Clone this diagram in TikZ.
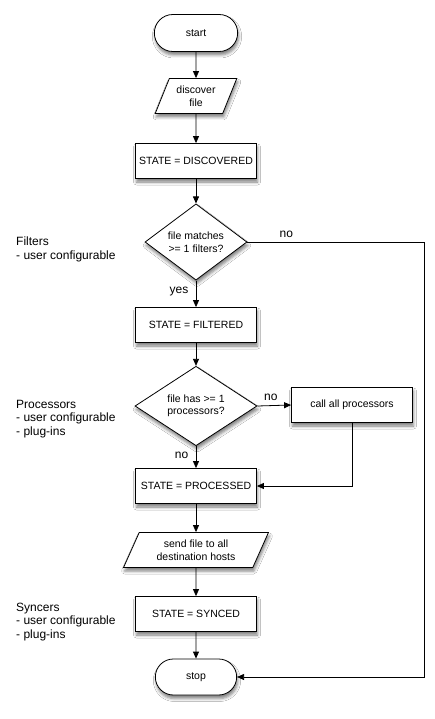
\documentclass[tikz,border=0pt]{standalone}
\usepackage{fontspec}
\setmainfont{Liberation Sans}
\usetikzlibrary{arrows.meta, positioning, shapes.geometric, shapes.misc, shadows.blur}
\definecolor{FlowInk}{HTML}{000000}
\definecolor{FlowPaper}{HTML}{FFFFFF}

\begin{document}
\begin{tikzpicture}[
    x=1pt, y=-1pt,
    font=\fontsize{10.5}{12.5}\selectfont,
    dropshade/.style={
      blur shadow={shadow xshift=1pt, shadow yshift=-3.5pt,
                   shadow blur radius=3pt, shadow opacity=50},
    },
    endpoint/.style={
      rounded rectangle,
      draw=FlowInk,
      line width=0.8pt,
      fill=FlowPaper,
      minimum width=90pt,
      minimum height=37pt,
      dropshade,
    },
    io/.style={
      trapezium,
      trapezium left angle=67,
      trapezium right angle=113,
      trapezium stretches=true,
      draw=FlowInk,
      line width=0.8pt,
      fill=FlowPaper,
      minimum height=35pt,
      inner xsep=2pt,
      align=center,
      dropshade,
    },
    statebox/.style={
      rectangle,
      draw=FlowInk,
      line width=0.8pt,
      fill=FlowPaper,
      minimum width=121pt,
      minimum height=35pt,
      inner xsep=2pt,
      align=center,
      dropshade,
    },
    decision/.style={
      diamond,
      draw=FlowInk,
      line width=0.8pt,
      fill=FlowPaper,
      inner sep=0pt,
      minimum height=68pt,
      align=center,
      dropshade,
    },
    note/.style={
      anchor=west,
      align=left,
      inner xsep=0pt,
      font=\fontsize{12}{13.8}\selectfont,
    },
    answer/.style={
      font=\fontsize{12}{13.8}\selectfont,
    },
    arr/.style={
      draw=FlowInk,
      line width=0.8pt,
      -{Triangle[length=7pt, width=6pt]},
    },
  ]
    \fill[FlowPaper] (0,0) rectangle (434,719);
    \useasboundingbox (0,0) rectangle (434,719);

    % main column
    \node[endpoint] (start) at (196,33) {start};
    \node[io, minimum width=82pt] (discover) at (196,96) {discover\\file};
    \node[statebox] (discovered) at (196,161) {STATE = DISCOVERED};
    \node[decision, minimum width=102pt] (matches) at (196,242) {file matches\\>= 1 filters?};
    \node[statebox] (filtered) at (196,325) {STATE = FILTERED};
    \node[decision, minimum width=122pt] (hasproc) at (196,406) {file has >= 1\\processors?};
    \node[statebox] (callproc) at (352,405) {call all processors};
    \node[statebox] (processed) at (196,486) {STATE = PROCESSED};
    \node[io, minimum width=145pt] (send) at (196,550) {send file to all\\destination hosts};
    \node[statebox] (synced) at (196,614) {STATE = SYNCED};
    \node[endpoint, minimum width=88pt, minimum height=36pt] (stop) at (196,677) {stop};
    \coordinate (skipcorner) at (424,242);

    % stage notes
    \node[note] (filtersnote) at (16,249) {Filters\\- user configurable};
    \node[note] (procnote) at (16,419) {Processors\\- user configurable\\- plug-ins};
    \node[note] (syncnote) at (16,622) {Syncers\\- user configurable\\- plug-ins};

    % flow
    \draw[arr] (start) -- (discover);
    \draw[arr] (discover) -- (discovered);
    \draw[arr] (discovered) -- (matches);
    \draw[arr] (matches) -- node[answer, pos=0.4, left=4pt] {yes} (filtered);
    \draw[arr] (matches.east) -- node[answer, above=1pt, pos=0.22] {no} (skipcorner) |- (stop.east);
    \draw[arr] (filtered) -- (hasproc);
    \draw[arr] (hasproc.east) -- node[answer, above=1pt, pos=0.4] {no} (callproc.west);
    \draw[arr] (hasproc) -- node[answer, pos=0.4, left=4pt] {no} (processed);
    \draw[arr] (callproc.south) |- (processed.east);
    \draw[arr] (processed) -- (send);
    \draw[arr] (send) -- (synced);
    \draw[arr] (synced) -- (stop);
  \end{tikzpicture}
\end{document}
